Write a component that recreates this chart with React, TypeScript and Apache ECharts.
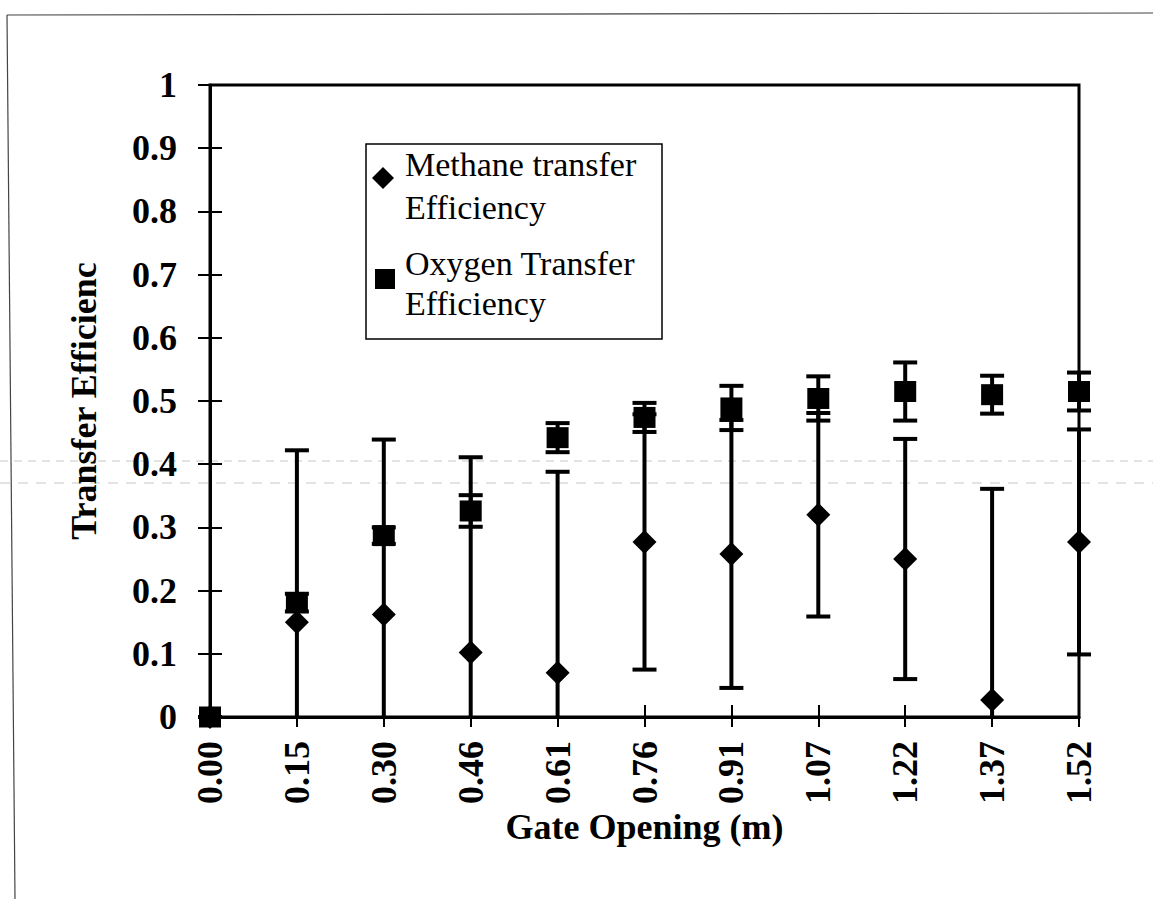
import React, { useEffect, useRef } from "react";
import * as echarts from "echarts";

const categories = ["0.00", "0.15", "0.30", "0.46", "0.61", "0.76", "0.91", "1.07", "1.22", "1.37", "1.52"];
const methaneMean = [0, 0.15, 0.162, 0.102, 0.07, 0.277, 0.258, 0.32, 0.25, 0.027, 0.277];
const methaneErr = [0, 0.272, 0.277, 0.309, 0.318, 0.202, 0.212, 0.161, 0.19, 0.334, 0.178];
const oxygenMean = [0, 0.181, 0.287, 0.326, 0.442, 0.474, 0.489, 0.504, 0.515, 0.51, 0.515];
const oxygenErr = [0, 0.014, 0.013, 0.025, 0.023, 0.023, 0.035, 0.035, 0.046, 0.03, 0.03];

const methaneName = "Methane transfer Efficiency";
const oxygenName = "Oxygen Transfer Efficiency";
const xTitle = "Gate Opening (m)";
const yTitle = "Transfer Efficienc";

const FONT = "'Liberation Serif', 'Times New Roman', Times, serif";
const Y_MIN = 0;

function errorBars(mean: number[], err: number[]) {
  return mean.map((m, i) => [i, m - err[i], m + err[i]]);
}

function makeRenderer(capHalf: number) {
  return (params: any, api: any) => {
    const x = api.value(0);
    const rawLo = api.value(1);
    const hi = api.value(2);
    const clipped = rawLo < Y_MIN;
    const lo = clipped ? Y_MIN : rawLo;
    const pHi = api.coord([x, hi]);
    const pLo = api.coord([x, lo]);
    const style = { stroke: "#000", lineWidth: 4 };
    const children: any[] = [
      { type: "line", shape: { x1: pHi[0], y1: pHi[1], x2: pLo[0], y2: pLo[1] }, style },
      { type: "line", shape: { x1: pHi[0] - capHalf, y1: pHi[1], x2: pHi[0] + capHalf, y2: pHi[1] }, style },
    ];
    if (!clipped) {
      children.push({ type: "line", shape: { x1: pLo[0] - capHalf, y1: pLo[1], x2: pLo[0] + capHalf, y2: pLo[1] }, style });
    }
    return { type: "group", children };
  };
}

export default function App() {
  const ref = useRef<HTMLDivElement>(null);
  useEffect(() => {
    if (!ref.current) return;
    const chart = echarts.init(ref.current, undefined, { renderer: "svg" });
    const labelStyle = { fontFamily: FONT, fontWeight: "bold" as const, fontSize: 36, color: "#000" };
    const legendFont = `34px ${FONT}`;
    const option: any = {
      animation: false,
      backgroundColor: "#fff",
      grid: {
        left: 210,
        top: 85,
        width: 869,
        height: 632,
        show: true,
        borderColor: "#000",
        borderWidth: 3,
        backgroundColor: "transparent",
      },
      xAxis: [
        {
          type: "category",
          data: categories,
          boundaryGap: false,
          position: "bottom",
          axisLine: { show: true, lineStyle: { color: "#000", width: 3 } },
          axisTick: { show: true, interval: 0, length: 10, lineStyle: { color: "#000", width: 2 } },
          axisLabel: { ...labelStyle, rotate: 90, interval: 0, margin: 24 },
          splitLine: { show: false },
          name: xTitle,
          nameLocation: "middle",
          nameGap: 92,
          nameMoveOverlap: false,
          nameTextStyle: { ...labelStyle },
        },
        {
          type: "category",
          data: categories,
          boundaryGap: false,
          position: "bottom",
          axisLine: { show: false },
          axisTick: { show: true, inside: true, interval: 0, length: 12, lineStyle: { color: "#000", width: 2 } },
          axisLabel: { show: false },
          splitLine: { show: false },
        },
      ],
      yAxis: [
        {
          type: "value",
          min: Y_MIN,
          max: 1,
          interval: 0.1,
          position: "left",
          axisLine: { show: true, lineStyle: { color: "#000", width: 3 } },
          axisTick: { show: true, length: 12, lineStyle: { color: "#000", width: 2 } },
          axisLabel: { ...labelStyle, margin: 33 },
          splitLine: { show: false },
          name: yTitle,
          nameLocation: "middle",
          nameRotate: 90,
          nameGap: 108,
          nameTextStyle: { ...labelStyle },
        },
        {
          type: "value",
          min: Y_MIN,
          max: 1,
          interval: 0.1,
          position: "left",
          axisLine: { show: false },
          axisTick: { show: true, inside: true, length: 12, lineStyle: { color: "#000", width: 2 } },
          axisLabel: { show: false },
          splitLine: { show: false },
        },
      ],
      series: [
        {
          name: methaneName + " error",
          type: "custom",
          xAxisIndex: 0,
          yAxisIndex: 0,
          clip: false,
          z: 2,
          renderItem: makeRenderer(12),
          encode: { x: 0, y: [1, 2] },
          data: errorBars(methaneMean, methaneErr),
        },
        {
          name: oxygenName + " error",
          type: "custom",
          xAxisIndex: 0,
          yAxisIndex: 0,
          clip: false,
          z: 2,
          renderItem: makeRenderer(12),
          encode: { x: 0, y: [1, 2] },
          data: errorBars(oxygenMean, oxygenErr),
        },
        {
          name: methaneName,
          type: "scatter",
          symbol: "diamond",
          symbolSize: [24, 24],
          clip: false,
          itemStyle: { color: "#000", opacity: 1 },
          z: 3,
          data: methaneMean,
        },
        {
          name: oxygenName,
          type: "scatter",
          symbol: "rect",
          symbolSize: [22, 21],
          clip: false,
          itemStyle: { color: "#000", opacity: 1 },
          z: 4,
          data: oxygenMean,
        },
      ],
      graphic: [
        // page frame
        { type: "line", shape: { x1: 7, y1: 15, x2: 1153, y2: 13 }, style: { stroke: "#444", lineWidth: 1.2 }, silent: true },
        { type: "line", shape: { x1: 7, y1: 15, x2: 15, y2: 899 }, style: { stroke: "#444", lineWidth: 1.2 }, silent: true },
        // faint scan lines
        { type: "line", shape: { x1: 0, y1: 461, x2: 1153, y2: 461 }, style: { stroke: "#c8c8c8", lineWidth: 1, lineDash: [8, 6] }, silent: true, z: 0 },
        { type: "line", shape: { x1: 0, y1: 483, x2: 1153, y2: 483 }, style: { stroke: "#c8c8c8", lineWidth: 1, lineDash: [10, 8] }, silent: true, z: 0 },
        // legend box
        {
          type: "group",
          z: 100,
          children: [
            { type: "rect", shape: { x: 366, y: 144, width: 296, height: 195 }, style: { fill: "#fff", stroke: "#000", lineWidth: 1.5 } },
            { type: "polygon", shape: { points: [[383, 167], [394, 178], [383, 189], [372, 178]] }, style: { fill: "#000" } },
            { type: "rect", shape: { x: 375, y: 269, width: 20, height: 20 }, style: { fill: "#000" } },
            { type: "text", style: { x: 405, y: 164, text: "Methane transfer", font: legendFont, fill: "#000", textVerticalAlign: "middle" } },
            { type: "text", style: { x: 405, y: 207, text: "Efficiency", font: legendFont, fill: "#000", textVerticalAlign: "middle" } },
            { type: "text", style: { x: 405, y: 263, text: "Oxygen Transfer", font: legendFont, fill: "#000", textVerticalAlign: "middle" } },
            { type: "text", style: { x: 405, y: 303, text: "Efficiency", font: legendFont, fill: "#000", textVerticalAlign: "middle" } },
          ],
        },
      ],
    };
    chart.setOption(option);
    return () => chart.dispose();
  }, []);
  return (
    <div
      ref={ref}
      style={{ position: "absolute", left: 0, top: 0, width: 1153, height: 899, background: "#fff" }}
    />
  );
}
